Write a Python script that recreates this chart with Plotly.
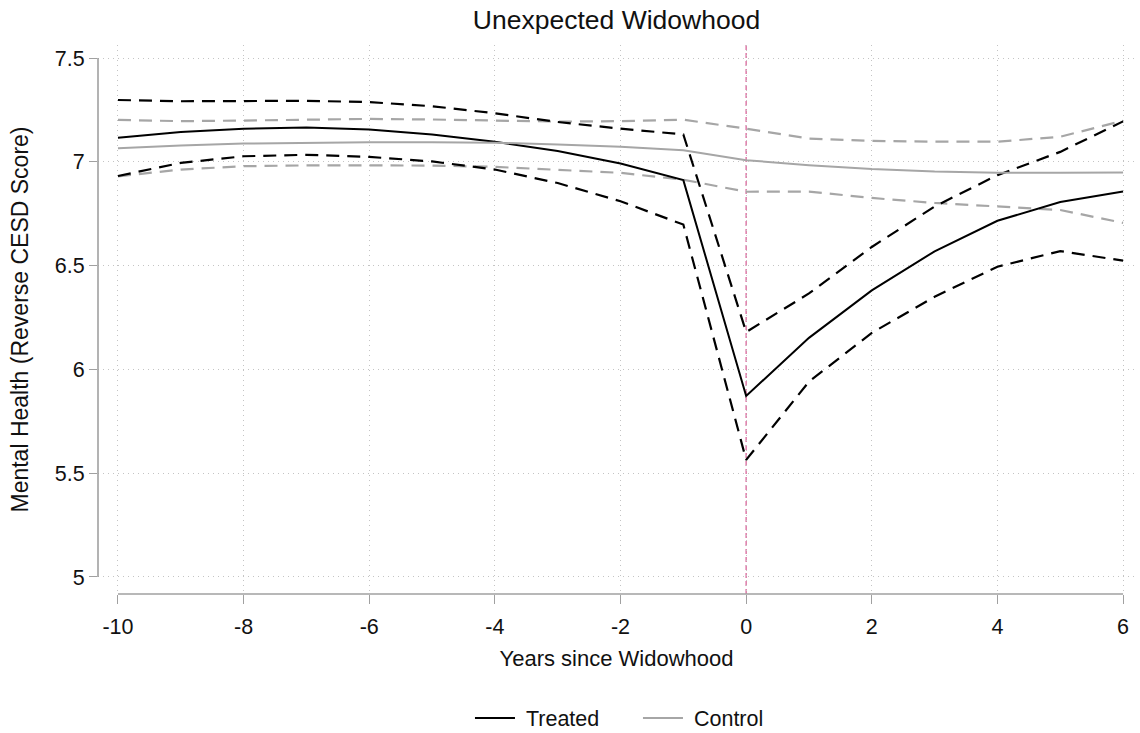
import plotly.graph_objects as go

years = [-10, -9, -8, -7, -6, -5, -4, -3, -2, -1, 0, 1, 2, 3, 4, 5, 6]

treated_mean = [7.116, 7.144, 7.160, 7.165, 7.156, 7.132, 7.097, 7.052, 6.992, 6.912,
                5.872, 6.152, 6.381, 6.569, 6.716, 6.807, 6.857]
treated_upper = [7.298, 7.292, 7.293, 7.294, 7.288, 7.268, 7.234, 7.192, 7.160, 7.132,
                 6.180, 6.366, 6.590, 6.785, 6.936, 7.048, 7.195]
treated_lower = [6.932, 6.995, 7.027, 7.034, 7.024, 7.002, 6.963, 6.898, 6.810, 6.698,
                 5.564, 5.941, 6.176, 6.350, 6.495, 6.570, 6.524]

control_mean = [7.066, 7.079, 7.088, 7.092, 7.095, 7.095, 7.092, 7.084, 7.073, 7.056,
                7.008, 6.984, 6.965, 6.953, 6.948, 6.947, 6.949]
control_upper = [7.202, 7.196, 7.199, 7.204, 7.207, 7.204, 7.200, 7.194, 7.196, 7.203,
                 7.160, 7.112, 7.101, 7.097, 7.097, 7.121, 7.198]
control_lower = [6.930, 6.963, 6.979, 6.983, 6.983, 6.982, 6.976, 6.963, 6.947, 6.914,
                 6.856, 6.857, 6.826, 6.802, 6.785, 6.768, 6.706]

x_ticks = [-10, -8, -6, -4, -2, 0, 2, 4, 6]
y_ticks = [5, 5.5, 6, 6.5, 7, 7.5]
y_tick_labels = ["5", "5.5", "6", "6.5", "7", "7.5"]
series_names = ["Treated", "Control"]

BLACK = "#000000"
GRAY = "#a6a6a6"
FONT = "Liberation Sans, Arial, sans-serif"
CI_DASH = "13px,8px"

fig = go.Figure()

# CI bands (dashed)
fig.add_trace(go.Scatter(x=years, y=control_upper, mode="lines", showlegend=False,
                         line=dict(color=GRAY, width=2.2, dash=CI_DASH)))
fig.add_trace(go.Scatter(x=years, y=control_lower, mode="lines", showlegend=False,
                         line=dict(color=GRAY, width=2.2, dash=CI_DASH)))
fig.add_trace(go.Scatter(x=years, y=treated_upper, mode="lines", showlegend=False,
                         line=dict(color=BLACK, width=2.2, dash=CI_DASH)))
fig.add_trace(go.Scatter(x=years, y=treated_lower, mode="lines", showlegend=False,
                         line=dict(color=BLACK, width=2.2, dash=CI_DASH)))
# means
fig.add_trace(go.Scatter(x=years, y=treated_mean, mode="lines", name="\u00a0" + series_names[0],
                         line=dict(color=BLACK, width=2)))
fig.add_trace(go.Scatter(x=years, y=control_mean, mode="lines", name="\u00a0" + series_names[1],
                         line=dict(color=GRAY, width=2)))

# reference line at event time
fig.add_shape(type="line", xref="x", yref="paper", x0=0, x1=0, y0=0, y1=1,
              line=dict(color="#dd7aa8", width=1.5, dash="5px,3px"), layer="below")
# detached axis lines (Stata style)
fig.add_shape(type="line", xref="paper", yref="y", x0=0, x1=0, y0=y_ticks[0], y1=y_ticks[-1],
              line=dict(color="#a0a0a0", width=1.6))
fig.add_shape(type="line", xref="x", yref="paper", x0=x_ticks[0], x1=x_ticks[-1], y0=0, y1=0,
              line=dict(color="#a0a0a0", width=1.6))

FIG_W, FIG_H = 1140, 733
fig.update_layout(
    width=FIG_W, height=FIG_H,
    paper_bgcolor="white", plot_bgcolor="white",
    margin=dict(l=98, r=5, t=45, b=139, autoexpand=False),
    font=dict(family=FONT, size=21, color="#111111"),
    title=dict(text="Unexpected Widowhood", x=0.5, xref="paper", xanchor="center",
               y=1 - 20 / FIG_H, yref="container", yanchor="middle",
               font=dict(size=26.5, color="#111111")),
    legend=dict(orientation="h", x=0.3587, xanchor="left", y=-0.2259, yanchor="middle",
                font=dict(size=21.5), itemwidth=40, entrywidth=113, tracegroupgap=0),
    showlegend=True,
)

fig.update_xaxes(
    range=[-10.318, 6.19], tickvals=x_ticks, ticktext=[str(v) for v in x_ticks],
    showline=False, zeroline=False, ticks="outside", ticklen=9, tickwidth=1.2,
    tickcolor="#a0a0a0", showgrid=True, gridcolor="#c4c4c4", griddash="1px,4px", gridwidth=1,
    tickfont=dict(size=21.5), automargin=False, ticklabelstandoff=4,
    title=dict(text="Years since Widowhood", font=dict(size=22), standoff=12),
)
fig.update_yaxes(
    range=[4.918, 7.563], tickvals=y_ticks, ticktext=y_tick_labels,
    showline=False, zeroline=False, ticks="outside", ticklen=8, tickwidth=1.2,
    tickcolor="#a0a0a0", showgrid=True, gridcolor="#c4c4c4", griddash="1px,4px", gridwidth=1,
    tickfont=dict(size=21.5), automargin=False,
    title=dict(text="Mental Health (Reverse CESD Score)", font=dict(size=23), standoff=19),
)

# remove the browser's default 8px body margin so the figure fills the window exactly
fig.write_html("out.html", config={"displayModeBar": False},
               post_script="document.body.style.margin='0';")
